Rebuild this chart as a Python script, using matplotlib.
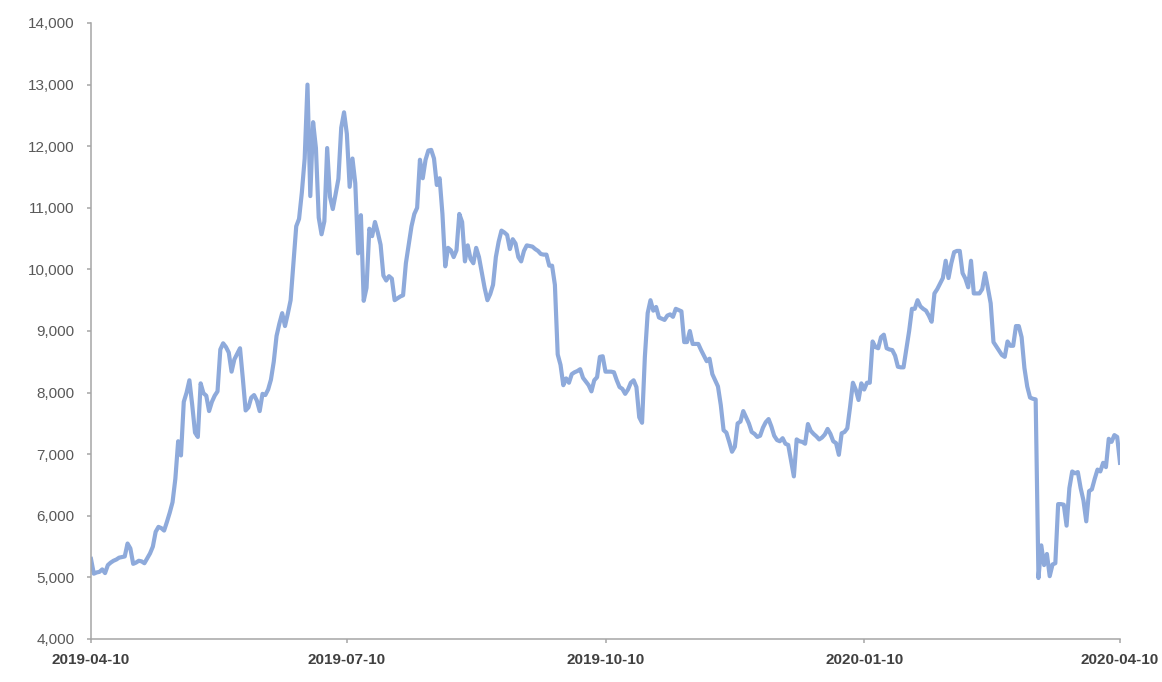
import numpy as np
import pandas as pd
import matplotlib
matplotlib.use('Agg')
import matplotlib.pyplot as plt
import matplotlib.dates as mdates
from matplotlib.ticker import FuncFormatter

plt.rcParams['font.family'] = ['Liberation Sans', 'DejaVu Sans']

# Precio diario, desde 2019-04-10
fecha_inicio = '2019-04-10'
precios = [
    5300, 5060, 5080, 5090, 5130, 5070, 5200, 5240, 5270, 5290,
    5320, 5330, 5340, 5550, 5470, 5220, 5240, 5270, 5260, 5230,
    5310, 5390, 5500, 5740, 5820, 5800, 5760, 5900, 6050, 6220,
    6600, 7210, 6980, 7850, 8000, 8200, 7800, 7350, 7280, 8150,
    7990, 7950, 7700, 7850, 7950, 8020, 8700, 8800, 8740, 8650,
    8340, 8540, 8630, 8720, 8230, 7710, 7760, 7920, 7960, 7870,
    7700, 7980, 7960, 8050, 8210, 8500, 8920, 9120, 9290, 9080,
    9280, 9500, 10100, 10700, 10820, 11250, 11800, 13000, 11190, 12390,
    11970, 10840, 10570, 10780, 11970, 11180, 10980, 11220, 11470, 12300,
    12550, 12200, 11340, 11800, 11400, 10260, 10880, 9490, 9700, 10660,
    10540, 10770, 10600, 10400, 9900, 9820, 9890, 9850, 9500, 9530,
    9560, 9580, 10100, 10400, 10700, 10900, 11000, 11780, 11480, 11780,
    11930, 11940, 11800, 11370, 11480, 10900, 10050, 10350, 10310, 10200,
    10310, 10900, 10770, 10130, 10390, 10170, 10100, 10350, 10200, 9950,
    9700, 9500, 9600, 9750, 10200, 10450, 10630, 10600, 10560, 10330,
    10490, 10420, 10200, 10130, 10300, 10390, 10380, 10370, 10330, 10300,
    10250, 10240, 10240, 10060, 10060, 9750, 8620, 8450, 8120, 8230,
    8160, 8300, 8330, 8350, 8380, 8240, 8180, 8120, 8020, 8200,
    8250, 8580, 8590, 8340, 8340, 8340, 8330, 8200, 8090, 8060,
    7980, 8050, 8160, 8200, 8090, 7600, 7510, 8580, 9290, 9500,
    9330, 9390, 9220, 9200, 9180, 9250, 9270, 9230, 9360, 9340,
    9320, 8820, 8820, 9000, 8790, 8790, 8790, 8690, 8600, 8510,
    8550, 8300, 8200, 8100, 7800, 7390, 7350, 7200, 7040, 7120,
    7500, 7530, 7700, 7600, 7500, 7360, 7330, 7280, 7300, 7430,
    7520, 7570, 7450, 7300, 7230, 7210, 7260, 7170, 7150, 6900,
    6640, 7240, 7210, 7200, 7170, 7490, 7380, 7330, 7290, 7240,
    7270, 7320, 7410, 7330, 7210, 7180, 6990, 7340, 7360, 7420,
    7770, 8160, 8050, 7880, 8150, 8050, 8160, 8160, 8830, 8740,
    8720, 8900, 8940, 8720, 8700, 8690, 8600, 8420, 8410, 8410,
    8700, 9000, 9360, 9360, 9500, 9400, 9360, 9330, 9250, 9150,
    9610, 9680, 9770, 9860, 10140, 9860, 10100, 10280, 10300, 10300,
    9940, 9850, 9710, 10140, 9610, 9610, 9610, 9680, 9940, 9700,
    9450, 8820, 8750, 8680, 8610, 8580, 8830, 8760, 8760, 9080,
    9080, 8900, 8400, 8100, 7920, 7900, 7890, 4990, 5520, 5200,
    5380, 5020, 5210, 5230, 6190, 6190, 6180, 5840, 6450, 6720,
    6690, 6710, 6450, 6250, 5910, 6400, 6430, 6600, 6750, 6720,
    6860, 6790, 7250, 7200, 7310, 7280, 6860,
]
fechas = pd.date_range(fecha_inicio, periods=len(precios), freq='D')

etiquetas_x = ['2019-04-10', '2019-07-10', '2019-10-10', '2020-01-10', '2020-04-10']
ticks_y = list(range(4000, 14001, 1000))

fig = plt.figure(figsize=(11.62, 6.82), dpi=100)
ax = fig.add_axes([91 / 1162, 43 / 682, 1029 / 1162, 616 / 682])

ax.plot(fechas, precios, color='#8eaadb', linewidth=3.0, solid_joinstyle='round')

ax.set_xlim(pd.Timestamp('2019-04-10'), pd.Timestamp('2020-04-10'))
ax.set_ylim(4000, 14000)

ax.set_xticks([pd.Timestamp(e) for e in etiquetas_x])
ax.set_xticklabels(etiquetas_x, fontsize=11, fontweight='bold', color='#404040')
ax.set_yticks(ticks_y)
ax.yaxis.set_major_formatter(FuncFormatter(lambda v, p: f'{int(v):,}'))
ax.tick_params(axis='y', labelsize=11, labelcolor='#595959', color='#a6a6a6',
               length=3, width=1.1, pad=9)
ax.tick_params(axis='x', color='#a6a6a6', length=3, width=1.1, pad=7)

for lado in ['top', 'right']:
    ax.spines[lado].set_visible(False)
for lado in ['left', 'bottom']:
    ax.spines[lado].set_color('#a6a6a6')
    ax.spines[lado].set_linewidth(1.1)

fig.savefig('out.png', dpi=100)
